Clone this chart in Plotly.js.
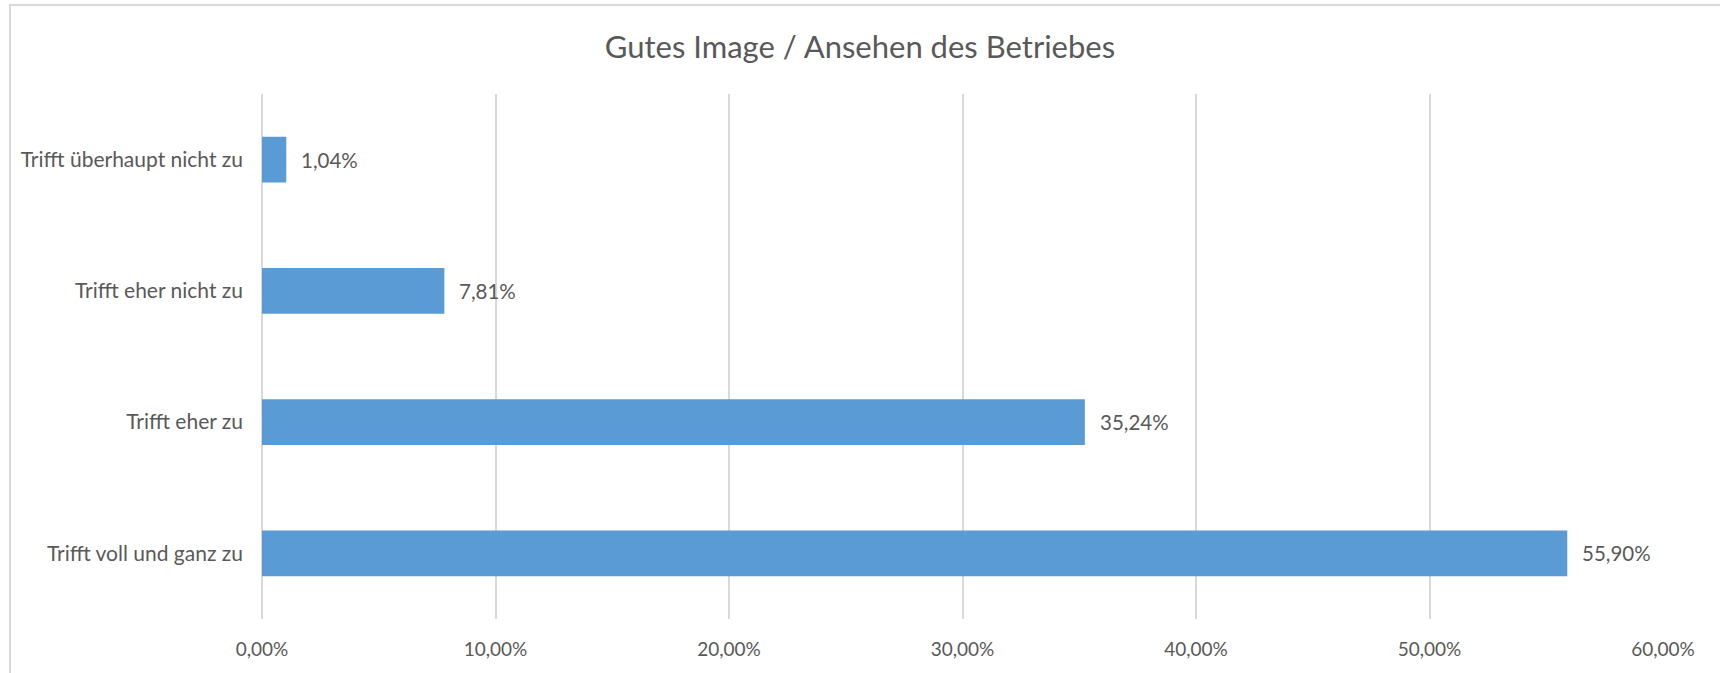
<!DOCTYPE html>
<html>
<head>
<meta charset="utf-8">
<script src="https://cdn.plot.ly/plotly-3.0.1.min.js"></script>
<style>
  html, body { margin: 0; padding: 0; background: #ffffff; }
  #wrap { position: relative; width: 1720px; height: 673px; overflow: hidden; }
  #chart { width: 1720px; height: 673px; }
  #frame { position: absolute; left: 9px; top: 4px; width: 1720px; height: 700px;
           border-left: 2px solid #d9d9d9; border-top: 2px solid #d9d9d9; pointer-events: none; }
</style>
</head>
<body>
<div id="wrap">
  <div id="chart"></div>
  <div id="frame"></div>
</div>
<script>
const chartTitle = "Gutes Image / Ansehen des Betriebes";
const categories = [
  "Trifft überhaupt nicht zu",
  "Trifft eher nicht zu",
  "Trifft eher zu",
  "Trifft voll und ganz zu"
];
const shares = [0.0104, 0.0781, 0.3524, 0.5590];
const xTickVals = [0, 0.1, 0.2, 0.3, 0.4, 0.5, 0.6];

const FONT = "Lato, 'Open Sans', sans-serif";
const TXT = "#595959";

const trace = {
  type: "bar",
  orientation: "h",
  y: categories,
  x: shares,
  marker: { color: "#5b9bd5" },
  hoverinfo: "x+y",
  cliponaxis: false
};

// data labels in German number format, placed at the end of each bar
const fmt = v => (v * 100).toFixed(2).replace(".", ",") + "%";
const labelAnnotations = shares.map((v, i) => ({
  x: v, y: categories[i], xref: "x", yref: "y",
  text: fmt(v),
  showarrow: false, xanchor: "left", yanchor: "middle", xshift: 13,
  font: { family: FONT, size: 20.5, color: TXT }
}));

const layout = {
  width: 1720, height: 673,
  separators: ",.",
  paper_bgcolor: "#ffffff",
  plot_bgcolor: "#ffffff",
  margin: { l: 262, r: 57, t: 94, b: 54 },
  bargap: 0.65,
  showlegend: false,
  title: {
    text: chartTitle,
    x: 0.5, xanchor: "center",
    y: 46, yref: "container", yanchor: "middle",
    font: { family: FONT, size: 31, color: TXT }
  },
  font: { family: FONT, color: TXT },
  xaxis: {
    range: [0, 0.6],
    tickvals: xTickVals,
    tickformat: ".2%",
    showgrid: true, gridcolor: "#d9d9d9", gridwidth: 2,
    zeroline: true, zerolinecolor: "#d9d9d9", zerolinewidth: 2,
    showline: false,
    ticks: "", ticklabelstandoff: 17,
    tickfont: { family: FONT, size: 19, color: TXT },
    fixedrange: true
  },
  yaxis: {
    type: "category",
    autorange: "reversed",
    showgrid: false, zeroline: false, showline: false,
    ticks: "", ticklabelstandoff: 18,
    tickfont: { family: FONT, size: 21, color: TXT },
    fixedrange: true
  },
  annotations: labelAnnotations
};

Plotly.newPlot("chart", [trace], layout, { displayModeBar: false, staticPlot: true });
</script>
</body>
</html>
